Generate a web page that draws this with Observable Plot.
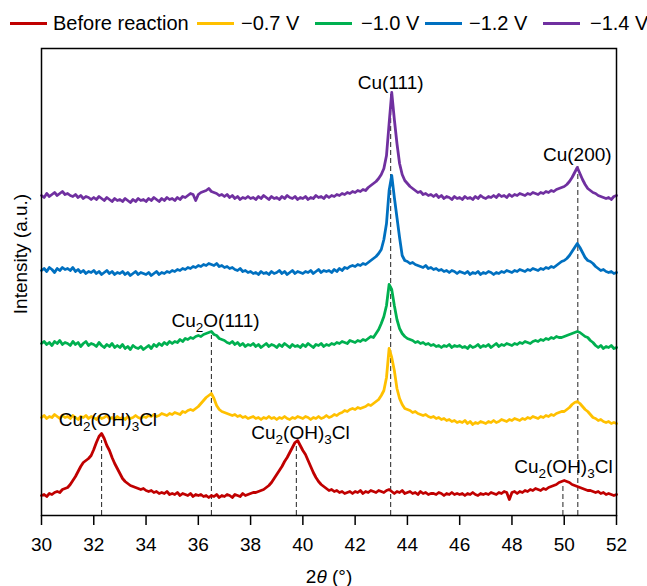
<!DOCTYPE html>
<html>
<head>
<meta charset="utf-8">
<script src="https://cdn.jsdelivr.net/npm/d3@7"></script>
<script src="https://cdn.jsdelivr.net/npm/@observablehq/plot@0.6"></script>
<style>
  html, body { margin: 0; padding: 0; background: #fff; }
  #wrap { position: relative; width: 647px; height: 586px; font-family: "Liberation Sans", Arial, sans-serif; }
  #legend { position: absolute; top: 0; left: 0; width: 647px; height: 40px; font-size: 20px; color: #000; }
  #legend .ln { position: absolute; top: 22px; height: 3px; width: 37px; }
  #legend .tx { position: absolute; top: 11px; line-height: 24px; white-space: nowrap; }
</style>
</head>
<body>
<div id="wrap"><div id="legend"></div></div>
<script>
// ---- data (intensity in a.u.) ----
const seriesNames = ["Before reaction", "−0.7 V", "−1.0 V", "−1.2 V", "−1.4 V"];
const seriesColors = ["#C00000", "#FFC000", "#00B050", "#0070C0", "#7030A0"];
const twoTheta = d3.range(300, 521).map(i => i / 10); // 30.0 … 52.0 step 0.1
const xTicks = [30, 32, 34, 36, 38, 40, 42, 44, 46, 48, 50, 52];

const beforeReaction = [
  20, 21, 19, 22, 21, 23, 24, 23, 26, 27,
  28, 31, 35, 39, 44, 49, 53, 55, 57, 60,
  66, 73, 79, 82, 77, 70, 65, 58, 52, 47,
  42, 37, 34, 32, 30, 29, 28, 27, 26, 27,
  25, 24, 25, 23, 24, 22, 23, 22, 24, 21,
  22, 21, 23, 20, 22, 21, 20, 22, 19, 21,
  20, 21, 19, 20, 18, 20, 19, 21, 18, 20,
  19, 21, 20, 18, 21, 20, 19, 22, 20, 21,
  22, 23, 23, 24, 25, 26, 28, 30, 33, 37,
  41, 45, 49, 54, 58, 63, 68, 73, 75, 70,
  65, 61, 55, 49, 43, 38, 34, 31, 29, 27,
  25, 26, 24, 25, 23, 24, 22, 23, 24, 22,
  24, 23, 25, 22, 24, 23, 25, 24, 23, 25,
  24, 23, 25, 26, 24, 22, 24, 23, 25, 22,
  23, 24, 22, 23, 21, 24, 22, 23, 21, 22,
  22, 21, 23, 22, 20, 22, 21, 23, 21, 22,
  21, 22, 20, 22, 21, 23, 21, 20, 22, 21,
  22, 21, 23, 22, 21, 23, 22, 24, 23, 16,
  23, 24, 22, 24, 23, 25, 24, 26, 25, 27,
  26, 25, 27, 26, 28, 29, 30, 31, 33, 34,
  35, 34, 33, 31, 30, 29, 28, 27, 26, 25,
  25, 24, 23, 24, 22, 23, 21, 22, 21, 20,
  21
];
const minus07V = [
  98, 100, 97, 99, 98, 101, 99, 97, 100, 98,
  99, 97, 100, 98, 96, 99, 98, 100, 97, 99,
  98, 96, 99, 97, 98, 100, 97, 98, 96, 99,
  97, 98, 96, 99, 97, 98, 100, 98, 97, 99,
  98, 100, 99, 101, 99, 100, 102, 101, 100, 102,
  101, 103, 102, 101, 104, 103, 105, 106, 105, 107,
  109, 112, 115, 118, 120, 122, 117, 110, 106, 104,
  103, 102, 101, 100, 101, 99, 100, 98, 99, 97,
  98, 99, 97, 98, 96, 98, 97, 99, 97, 98,
  96, 98, 97, 99, 97, 96, 98, 97, 99, 98,
  97, 99, 98, 96, 98, 97, 99, 97, 98, 100,
  98, 99, 101, 100, 102, 103, 105, 104, 106, 107,
  106, 108, 107, 108, 109, 111, 110, 112, 114, 116,
  120, 125, 138, 167, 158, 145, 127, 117, 111, 107,
  106, 105, 103, 104, 102, 101, 100, 101, 99, 98,
  99, 97, 98, 96, 97, 95, 96, 94, 95, 93,
  94, 93, 95, 92, 94, 91, 93, 92, 94, 93,
  92, 94, 93, 95, 93, 94, 96, 95, 94, 96,
  95, 97, 96, 95, 97, 96, 98, 97, 99, 98,
  97, 99, 98, 100, 99, 101, 100, 102, 103, 104,
  104, 106, 108, 111, 113, 114, 112, 109, 106, 104,
  101, 98, 97, 95, 96, 94, 93, 94, 92, 93,
  92
];
const minus10V = [
  172, 174, 171, 173, 170, 174, 172, 175, 171, 173,
  172, 170, 174, 171, 173, 169, 172, 174, 170, 172,
  171, 169, 173, 170, 168, 171, 169, 172, 168, 170,
  168, 171, 167, 169, 166, 170, 168, 167, 169, 166,
  168, 170, 167, 171, 169, 172, 170, 173, 171, 174,
  172, 174, 173, 176, 174, 177, 176, 178, 177, 179,
  180, 179, 181, 182, 183, 184, 181, 180, 177, 176,
  175, 173, 172, 174, 171, 173, 170, 172, 169, 171,
  170, 172, 169, 171, 168, 170, 172, 169, 171, 170,
  168, 171, 169, 172, 170, 168, 171, 169, 170, 168,
  171, 169, 172, 170, 168, 171, 170, 172, 169, 171,
  170, 172, 171, 173, 172, 174, 173, 172, 175, 174,
  173, 175, 174, 176, 175, 177, 179, 178, 182, 186,
  192, 199, 210, 231, 226, 210, 196, 187, 182, 179,
  177, 176, 175, 173, 174, 172, 173, 171, 172, 170,
  171, 169, 170, 168, 170, 169, 171, 168, 170, 169,
  170, 168, 169, 167, 170, 168, 169, 171, 168, 170,
  169, 171, 168, 170, 172, 169, 171, 170, 172, 171,
  170, 172, 171, 173, 172, 174, 173, 172, 174, 175,
  174, 176, 175, 177, 176, 178, 177, 179, 178, 178,
  179, 180, 181, 182, 183, 184, 183, 181, 179, 178,
  175, 173, 170, 168, 170, 167, 169, 168, 170, 167,
  168
];
const minus12V = [
  245, 247, 244, 248, 246, 243, 247, 245, 248, 246,
  247, 245, 248, 244, 246, 243, 245, 242, 244, 243,
  245, 242, 244, 241, 243, 245, 242, 244, 241, 243,
  242, 244, 241, 243, 240, 242, 244, 241, 243, 242,
  241, 243, 240, 242, 244, 241, 243, 242, 244, 243,
  245, 244, 246, 245, 247, 246, 248, 247, 249, 248,
  250, 249, 251, 250, 252, 251, 250, 252, 249, 250,
  248, 249, 247, 248, 246, 245, 247, 244, 245, 243,
  244, 242, 243, 241, 244, 242, 243, 241, 244, 242,
  243, 245, 242, 244, 241, 243, 245, 242, 244, 243,
  242, 244, 243, 245, 242, 244, 246, 243, 245, 244,
  245, 243, 246, 244, 247, 245, 248, 247, 249, 250,
  249, 251, 250, 252, 251, 253, 255, 257, 259, 262,
  266, 276, 292, 325, 340, 318, 298, 278, 260, 255,
  254, 252, 253, 251, 250, 249, 248, 250, 247, 248,
  246, 247, 245, 246, 244, 245, 243, 245, 244, 242,
  244, 243, 242, 244, 241, 243, 242, 244, 241, 243,
  242, 244, 243, 241, 243, 242, 244, 243, 245, 244,
  243, 245, 244, 246, 245, 244, 246, 245, 247, 246,
  245, 247, 246, 248, 247, 249, 248, 250, 252, 254,
  255, 257, 260, 264, 268, 272, 268, 263, 258, 255,
  254, 252, 249, 247, 245, 246, 244, 243, 244, 242,
  243
];
const minus14V = [
  320, 318, 322, 319, 321, 323, 320, 322, 324, 321,
  322, 320, 319, 321, 318, 320, 317, 319, 318, 316,
  318, 316, 319, 317, 315, 318, 316, 314, 317, 315,
  316, 314, 317, 315, 313, 316, 314, 317, 315, 316,
  314, 317, 315, 318, 316, 314, 317, 315, 318, 316,
  317, 315, 318, 316, 319, 318, 320, 322, 321, 315,
  321, 323, 324, 325, 327, 324, 323, 322, 320, 321,
  319, 321, 318, 320, 317, 319, 316, 318, 317, 319,
  317, 318, 316, 319, 317, 320, 318, 316, 319, 317,
  318, 316, 319, 317, 320, 318, 317, 319, 316, 318,
  317, 319, 316, 318, 317, 320, 318, 319, 317, 320,
  318, 320, 319, 321, 320, 322, 321, 323, 322, 324,
  323, 325, 324, 326, 325, 328, 330, 332, 334, 337,
  341, 347, 360, 392, 423, 396, 372, 352, 341, 335,
  332, 329, 327, 325, 323, 324, 321, 322, 320, 321,
  319, 321, 318, 320, 317, 319, 318, 316, 319, 317,
  318, 316, 319, 317, 318, 316, 319, 317, 320, 318,
  317, 319, 318, 320, 318, 321, 319, 320, 318, 321,
  319, 321, 320, 322, 321, 320, 322, 321, 323, 322,
  321, 323, 322, 324, 323, 325, 324, 326, 327, 328,
  329, 331, 334, 338, 343, 348, 342, 336, 331, 327,
  325, 323, 322, 320, 319, 318, 317, 318, 316, 319,
  320
];
const seriesValues = [beforeReaction, minus07V, minus10V, minus12V, minus14V];

// reference peak markers (dashed lines)
const markerTheta = [32.3, 36.5, 39.75, 43.36, 49.95, 50.52];
const markerTop = [75, 180, 72, 423, 32, 349];

// peak labels
const labelText = ["Cu(111)", "Cu(200)", "Cu_2O(111)", "Cu_2(OH)_3Cl", "Cu_2(OH)_3Cl", "Cu_2(OH)_3Cl"];
const labelTheta = [43.36, 50.5, 36.66, 32.54, 39.91, 49.97];
const labelLevel = [433, 361, 195, 96, 83, 49];

// ---- build tables ----
seriesValues.forEach((v, k) => { if (v.length !== twoTheta.length) throw new Error(seriesNames[k] + " has " + v.length); });
const lineData = seriesNames.flatMap((name, k) =>
  seriesValues[k].map((v, i) => ({theta: twoTheta[i], intensity: v, series: name})));
const markers = markerTheta.map((t, i) => ({theta: t, top: markerTop[i]}));
const labels = labelText.map((t, i) => ({text: t, theta: labelTheta[i], level: labelLevel[i]}));

const FONT = "'Liberation Sans', Arial, sans-serif";

const chart = Plot.plot({
  width: 647,
  height: 586,
  marginLeft: 41,
  marginRight: 31,
  marginTop: 48,
  marginBottom: 71,
  style: {fontFamily: FONT, fontSize: "19px", color: "#000", background: "transparent", overflow: "visible"},
  x: {domain: [30, 52]},
  y: {domain: [0, 467], axis: null},
  color: {domain: seriesNames, range: seriesColors},
  marks: [
    Plot.ruleX(markers, {x: "theta", y1: 0, y2: "top", stroke: "#222", strokeWidth: 1, strokeDasharray: "5,3"}),
    Plot.line(lineData, {x: "theta", y: "intensity", z: "series", stroke: "series", strokeWidth: 2.8, strokeLinejoin: "round"}),
    Plot.frame({stroke: "#000", strokeWidth: 1.5}),
    Plot.axisX({ticks: xTicks, tickFormat: d => String(d), tickSize: 10, tickPadding: 12, strokeWidth: 1.5, label: null, fontSize: 19}),
    Plot.text(labels, {x: "theta", y: "level", text: "text", textAnchor: "middle", lineAnchor: "middle", fontSize: 19, fill: "#000"}),
    Plot.text(["2θ (°)"], {frameAnchor: "bottom", dy: 67, lineAnchor: "bottom", textAnchor: "middle", fontSize: 19, fill: "#000"}),
    Plot.text(["Intensity (a.u.)"], {frameAnchor: "left", dx: -21, dy: -28, rotate: -90, lineAnchor: "middle", textAnchor: "middle", fontSize: 19, fill: "#000"})
  ]
});

// rich text: subscripts (_d) and italic θ
const NS = "http://www.w3.org/2000/svg";
chart.querySelectorAll("text").forEach(el => {
  const s = el.textContent;
  if (!/_\d|θ/.test(s)) return;
  el.textContent = "";
  const parts = s.split(/(_\d|θ)/).filter(p => p.length);
  let down = false;
  for (const p of parts) {
    const t = document.createElementNS(NS, "tspan");
    if (p.startsWith("_")) {
      t.textContent = p.slice(1);
      t.setAttribute("font-size", "13.5");
      if (!down) t.setAttribute("dy", "5");
      down = true;
    } else {
      t.textContent = p;
      if (p === "θ") t.setAttribute("font-style", "italic");
      if (down) t.setAttribute("dy", "-5");
      down = false;
    }
    el.appendChild(t);
  }
});

document.getElementById("wrap").appendChild(chart);
chart.style.position = "absolute";
chart.style.left = "0";
chart.style.top = "0";

// legend (line swatches)
const legendLineX = [10, 197, 315, 425, 543];
const legendTextX = [53, 241, 361, 469, 590];
const legend = document.getElementById("legend");
seriesNames.forEach((name, i) => {
  const ln = document.createElement("div");
  ln.className = "ln";
  ln.style.left = legendLineX[i] + "px";
  ln.style.background = seriesColors[i];
  legend.appendChild(ln);
  const tx = document.createElement("div");
  tx.className = "tx";
  tx.style.left = legendTextX[i] + "px";
  tx.textContent = name;
  legend.appendChild(tx);
});
</script>
</body>
</html>
